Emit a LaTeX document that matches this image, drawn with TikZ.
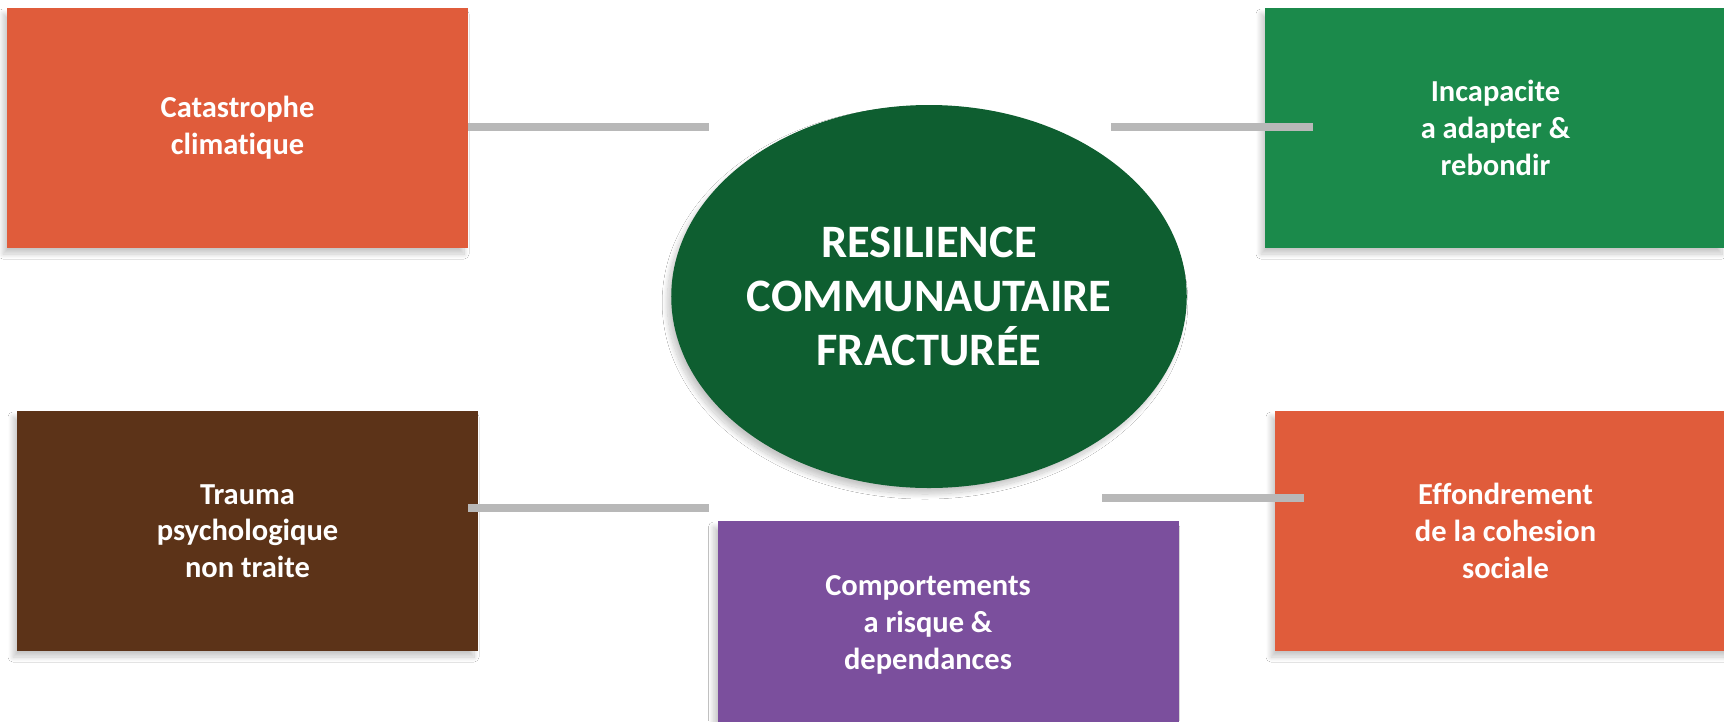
\documentclass[tikz,border=0pt]{standalone}
\usepackage{fontspec}
\setmainfont{Carlito}[RawFeature={-liga}]
\usetikzlibrary{shapes.geometric,shadows.blur}
\definecolor{corange}{HTML}{E05C3B}
\definecolor{cgreen}{HTML}{1B8A4B}
\definecolor{cdark}{HTML}{0E5E30}
\definecolor{cbrown}{HTML}{5C3318}
\definecolor{cpurple}{HTML}{7B4F9D}
\definecolor{cline}{HTML}{B8B8B8}
\tikzset{
  softshadow/.style={blur shadow={shadow xshift=-4pt,shadow yshift=-6pt,shadow blur radius=5pt,shadow blur steps=20,shadow opacity=22}},
  boxnode/.style={rectangle,minimum width=461pt,minimum height=240pt,inner sep=0pt,text=white,
    font=\bfseries\fontsize{30.5}{36.7}\selectfont,align=center,softshadow},
  textnode/.style={inner sep=0pt,text=white,font=\bfseries\fontsize{30.5}{36.7}\selectfont,align=center},
  centernode/.style={ellipse,minimum width=498pt,minimum height=383pt,inner sep=0pt,fill=cdark,text=white,
    font=\bfseries\fontsize{46.5}{54}\selectfont,align=center,softshadow},
  conn/.style={draw=cline,line width=7.5pt}
}
\begin{document}
\begin{tikzpicture}[x=1pt,y=-1pt]
\clip (0,0) rectangle (1724,721);
\fill[white] (0,0) rectangle (1724,721);
\node[boxnode,fill=corange] (c1) at (237.5,128) {Catastrophe\\climatique};
\node[boxnode,fill=cgreen] (c2) at (1495.5,128) {Incapacite\\a adapter \&\\rebondir};
\node[boxnode,fill=cbrown] (c3) at (247.5,531) {Trauma\\psychologique\\non traite};
\node[boxnode,fill=corange] (c4) at (1505.5,531) {Effondrement\\de la cohesion\\sociale};
\node[boxnode,fill=cpurple] (c5) at (948,641) {};
\node[textnode] (c5t) at (928,625) {Comportements\\a risque \&\\dependances};
\node[centernode] (center) at (929,296.5) {RESILIENCE\\COMMUNAUTAIRE\\FRACTURÉE};
\coordinate (e1) at (709,127);
\coordinate (e2a) at (1111,127);
\coordinate (e2b) at (1313,127);
\coordinate (e3a) at (468,508);
\coordinate (e3b) at (709,508);
\coordinate (e4a) at (1102,498);
\coordinate (e4b) at (1304,498);
\draw[conn] (c1.east |- e1) -- (e1);
\draw[conn] (e2a) -- (e2b);
\draw[conn] (e3a) -- (e3b);
\draw[conn] (e4a) -- (e4b);
\end{tikzpicture}
\end{document}
